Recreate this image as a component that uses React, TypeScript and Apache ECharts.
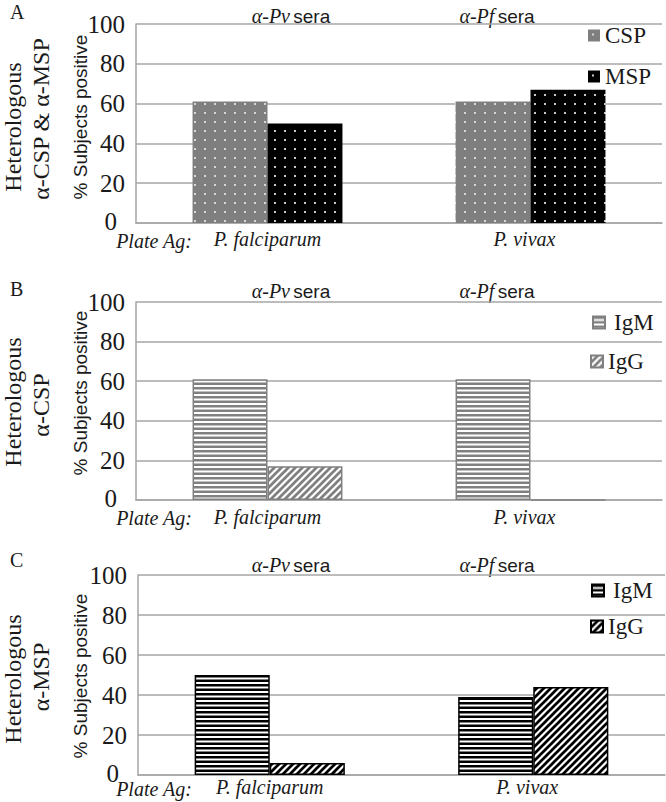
import React, { useEffect, useRef } from "react";
import * as echarts from "echarts";

// ---- data ----
const categories = ["P. falciparum", "P. vivax"];
const yMin = 0;
const yMax = 100;
const yStep = 20;
const cspA = [61, 61];
const mspA = [50, 67];
const igmB = [61, 61];
const iggB = [17, 0];
const igmC = [50, 39];
const iggC = [6, 44];
const seraItalic = ["α-Pv", "α-Pf"];
const seraWord = "sera";
const panelLetters = ["A", "B", "C"];
const panelTitles = [
  ["Heterologous", "α-CSP & α-MSP"],
  ["Heterologous", "α-CSP"],
  ["Heterologous", "α-MSP"],
];
const yAxisTitle = "% Subjects positive";
const plateLabel = "Plate Ag:";
const legendA = ["CSP", "MSP"];
const legendB = ["IgM", "IgG"];
const legendC = ["IgM ", "IgG "];

const SERIF = "Liberation Serif";
const SANS = "Liberation Sans";
const TXT = "#1a1a1a";
const GRID = "#a6a6a6";

function tile(w: number, h: number, draw: (ctx: CanvasRenderingContext2D) => void): any {
  const c = document.createElement("canvas");
  c.width = w;
  c.height = h;
  const ctx = c.getContext("2d") as CanvasRenderingContext2D;
  draw(ctx);
  return { image: c, repeat: "repeat", imageWidth: w, imageHeight: h };
}
const dots = (bg: string, dot: string) =>
  tile(10, 9, (ctx) => {
    ctx.fillStyle = bg;
    ctx.fillRect(0, 0, 10, 9);
    ctx.fillStyle = dot;
    ctx.fillRect(4, 4, 2, 2);
  });
const hstripes = (fg: string) =>
  tile(9, 9, (ctx) => {
    ctx.fillStyle = "#ffffff";
    ctx.fillRect(0, 0, 9, 9);
    ctx.fillStyle = fg;
    ctx.fillRect(0, 0, 9, 2.5);
    ctx.fillRect(0, 4.5, 9, 2.5);
  });
const diag = (fg: string) =>
  tile(7, 7, (ctx) => {
    ctx.fillStyle = "#ffffff";
    ctx.fillRect(0, 0, 7, 7);
    ctx.strokeStyle = fg;
    ctx.lineWidth = 2.7;
    for (const k of [-7, 0, 7, 14]) {
      ctx.beginPath();
      ctx.moveTo(k + 10, -10);
      ctx.lineTo(k - 10, 10);
      ctx.stroke();
    }
  });

export default function App() {
  const ref = useRef<HTMLDivElement>(null);
  useEffect(() => {
    if (!ref.current) return;
    const chart = echarts.init(ref.current, null, { renderer: "svg" });

    const grids = [
      { left: 136, top: 24, width: 526, height: 199 },
      { left: 136, top: 302, width: 526, height: 198 },
      { left: 138, top: 575, width: 527, height: 200 },
    ];
    const xMargins = [6, 7, 2];

    const xAxis = grids.map((_, i) => ({
      type: "category",
      gridIndex: i,
      data: categories,
      axisTick: { show: false },
      axisLine: { lineStyle: { color: GRID, width: 1.5 } },
      axisLabel: {
        fontFamily: SERIF,
        fontStyle: "italic",
        fontSize: 20,
        color: TXT,
        margin: xMargins[i],
        formatter: (v: string, idx: number) => (idx === 1 ? `{v|${v}}` : v),
        rich: {
          v: { fontFamily: SERIF, fontStyle: "italic", fontSize: 20, color: TXT, padding: [0, 12, 0, 0] },
        },
      },
    }));
    const yAxis = grids.map((_, i) => ({
      type: "value",
      gridIndex: i,
      min: yMin,
      max: yMax,
      interval: yStep,
      axisLine: { show: true, lineStyle: { color: GRID, width: 1.5 } },
      axisTick: { show: false },
      splitLine: { lineStyle: { color: GRID, width: 1.5 } },
      axisLabel: {
        fontFamily: SERIF,
        fontSize: 25,
        color: TXT,
        margin: 11,
        formatter: (v: number) => (v === 0 ? "{z|0}" : String(v)),
        rich: { z: { fontFamily: SERIF, fontSize: 25, color: TXT, padding: [0, 8, 4, 0] } },
      },
    }));

    const bar = (name: string, idx: number, data: number[], color: any, border?: string) => ({
      type: "bar",
      name,
      xAxisIndex: idx,
      yAxisIndex: idx,
      data,
      barGap: "0%",
      barCategoryGap: "43%",
      itemStyle: border
        ? { color, borderColor: border, borderWidth: 1.5 }
        : { color, borderWidth: 0 },
    });

    const series = [
      bar(legendA[0], 0, cspA, dots("#7f7f7f", "#d6d6d6")),
      bar(legendA[1], 0, mspA, dots("#000000", "#c8c8c8")),
      bar(legendB[0], 1, igmB, hstripes("#808080"), "#808080"),
      bar(legendB[1], 1, iggB, diag("#808080"), "#808080"),
      bar(legendC[0], 2, igmC, hstripes("#000000"), "#000000"),
      bar(legendC[1], 2, iggC, diag("#000000"), "#000000"),
    ];

    const legPos = [
      { name: legendA[0], left: 588, top: 24, pad: 0 },
      { name: legendA[1], left: 588, top: 65, pad: 0 },
      { name: legendB[0], left: 592, top: 311, pad: 4 },
      { name: legendB[1], left: 590, top: 350, pad: 0 },
      { name: legendC[0], left: 591, top: 579, pad: 4 },
      { name: legendC[1], left: 590, top: 615, pad: 0 },
    ];
    const legend = legPos.map((l) => ({
      data: [l.name],
      left: l.left,
      top: l.top,
      padding: 0,
      orient: "vertical",
      icon: "rect",
      itemWidth: 12,
      itemHeight: 12,
      selectedMode: false,
      formatter: (n: string) => n.trim(),
      textStyle: { fontFamily: SERIF, fontSize: 23, color: TXT, padding: [0, 0, 0, l.pad] },
    }));

    const letterY = [12, 289, 560];
    const titleY = [
      [127, 119],
      [402, 405],
      [679, 677],
    ];
    const yTitleY = [117, 393, 676];
    const plateY = [241, 518, 789];
    const seraY = [16, 291, 565];
    const seraX = [291, 497];

    const graphic: any[] = [];
    panelLetters.forEach((L, i) => {
      graphic.push({
        type: "text",
        x: 10,
        y: letterY[i],
        style: { text: L, fontFamily: SERIF, fontSize: 20, fill: TXT, align: "left", verticalAlign: "middle" },
      });
      graphic.push({
        type: "text",
        x: 13,
        y: titleY[i][0],
        rotation: Math.PI / 2,
        style: { text: panelTitles[i][0], fontFamily: SERIF, fontSize: 24, fill: TXT, align: "center", verticalAlign: "middle" },
      });
      graphic.push({
        type: "text",
        x: 41,
        y: titleY[i][1],
        rotation: Math.PI / 2,
        style: { text: panelTitles[i][1], fontFamily: SERIF, fontSize: 24, fill: TXT, align: "center", verticalAlign: "middle" },
      });
      graphic.push({
        type: "text",
        x: 80,
        y: yTitleY[i],
        rotation: Math.PI / 2,
        style: { text: yAxisTitle, fontFamily: SANS, fontSize: 19, fill: TXT, align: "center", verticalAlign: "middle" },
      });
      graphic.push({
        type: "text",
        x: 154,
        y: plateY[i],
        style: { text: plateLabel, fontFamily: SERIF, fontStyle: "italic", fontSize: 20, fill: TXT, align: "center", verticalAlign: "middle" },
      });
      seraItalic.forEach((s, j) => {
        graphic.push({
          type: "text",
          x: seraX[j],
          y: seraY[i],
          style: {
            text: `{i|${s}} {s|${seraWord}}`,
            align: "center",
            verticalAlign: "middle",
            fill: TXT,
            rich: {
              i: { fontFamily: SERIF, fontStyle: "italic", fontSize: 20, fill: TXT },
              s: { fontFamily: SANS, fontSize: 19, fill: TXT },
            },
          },
        });
      });
    });

    chart.setOption({
      animation: false,
      backgroundColor: "#ffffff",
      grid: grids,
      xAxis,
      yAxis,
      series,
      legend,
      graphic,
    } as any);

    return () => chart.dispose();
  }, []);

  return (
    <div
      ref={ref}
      style={{ position: "absolute", left: 0, top: 0, width: 666, height: 802 }}
    />
  );
}
